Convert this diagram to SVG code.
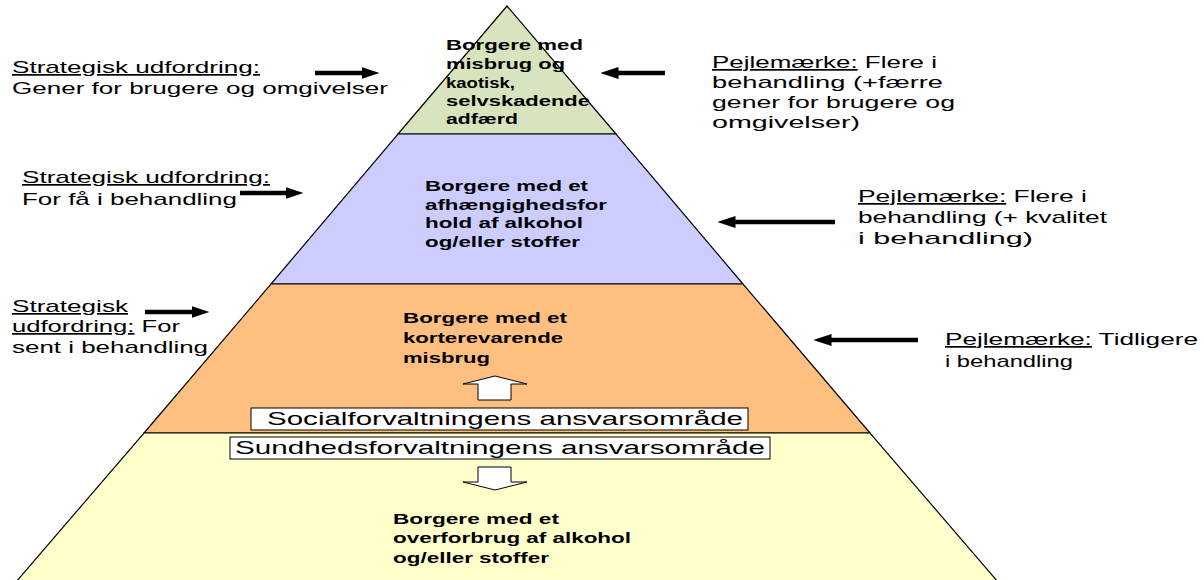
<svg xmlns="http://www.w3.org/2000/svg" width="1204" height="580" viewBox="0 0 1204 580">
<defs>
<style>
.lvl{stroke:#000;stroke-width:1.2}
.pt{font-family:"Liberation Sans",Arial,sans-serif;font-weight:bold;font-size:15px;fill:#000}
.lb{font-family:"Liberation Sans",Arial,sans-serif;font-size:17px;fill:#000}
.bx{font-family:"Liberation Sans",Arial,sans-serif;font-size:19px;fill:#000}
.u{text-decoration:underline}
.arr{stroke:#000;stroke-width:4.5;fill:none;marker-end:url(#ah)}
.blk{fill:#fff;stroke:#000;stroke-width:1}
</style>
<marker id="ah" markerUnits="userSpaceOnUse" viewBox="0 0 18 12" markerWidth="18" markerHeight="12" refX="0.5" refY="6" orient="auto">
<path d="M0,0 L18,6 L0,12 z" fill="#000"/>
</marker>
</defs>
<rect width="1204" height="580" fill="#fff"/>

<g id="level-top">
<polygon class="lvl" fill="#D7E4BD" points="507,6 616,134 398,134"/>
<text class="pt" x="446" y="50" textLength="137" lengthAdjust="spacingAndGlyphs">Borgere med</text>
<text class="pt" x="446" y="69" textLength="119" lengthAdjust="spacingAndGlyphs">misbrug og</text>
<text class="pt" x="446" y="88" textLength="69" lengthAdjust="spacingAndGlyphs">kaotisk,</text>
<text class="pt" x="446" y="106" textLength="144" lengthAdjust="spacingAndGlyphs">selvskadende</text>
<text class="pt" x="446" y="124" textLength="72" lengthAdjust="spacingAndGlyphs">adfærd</text>
</g>

<g id="level-dependency">
<polygon class="lvl" fill="#CCCCFF" points="398,134 616,134 743,284 271,284"/>
<text class="pt" x="425" y="191" textLength="163" lengthAdjust="spacingAndGlyphs">Borgere med et</text>
<text class="pt" x="425" y="210" textLength="182" lengthAdjust="spacingAndGlyphs">afhængighedsfor</text>
<text class="pt" x="425" y="228" textLength="158" lengthAdjust="spacingAndGlyphs">hold af alkohol</text>
<text class="pt" x="425" y="247" textLength="155" lengthAdjust="spacingAndGlyphs">og/eller stoffer</text>
</g>

<g id="level-short">
<polygon class="lvl" fill="#FFBF80" points="271,284 743,284 870,433 144,433"/>
<text class="pt" x="403" y="323" textLength="164" lengthAdjust="spacingAndGlyphs">Borgere med et</text>
<text class="pt" x="403" y="343" textLength="160" lengthAdjust="spacingAndGlyphs">korterevarende</text>
<text class="pt" x="403" y="363" textLength="87" lengthAdjust="spacingAndGlyphs">misbrug</text>
</g>

<g id="level-overuse">
<polygon class="lvl" fill="#FFFFCC" points="144,433 870,433 998,582 16,582"/>
<text class="pt" x="393" y="524" textLength="166" lengthAdjust="spacingAndGlyphs">Borgere med et</text>
<text class="pt" x="393" y="543" textLength="238" lengthAdjust="spacingAndGlyphs">overforbrug af alkohol</text>
<text class="pt" x="393" y="563" textLength="156" lengthAdjust="spacingAndGlyphs">og/eller stoffer</text>
</g>

<g id="box-social">
<rect class="blk" x="251" y="408" width="497" height="22"/>
<text class="bx" x="267" y="425" textLength="476" lengthAdjust="spacingAndGlyphs">Socialforvaltningens ansvarsområde</text>
</g>

<g id="box-sundhed">
<rect class="blk" x="230" y="437" width="540" height="22"/>
<text class="bx" x="235" y="454" textLength="530" lengthAdjust="spacingAndGlyphs">Sundhedsforvaltningens ansvarsområde</text>
</g>

<g id="label-left-1">
<text class="lb" x="12" y="73" textLength="248" lengthAdjust="spacingAndGlyphs"><tspan class="u">Strategisk udfordring:</tspan></text>
<text class="lb" x="12" y="94" textLength="376" lengthAdjust="spacingAndGlyphs">Gener for brugere og omgivelser</text>
</g>
<g id="label-left-2">
<text class="lb" x="22" y="183" textLength="248" lengthAdjust="spacingAndGlyphs"><tspan class="u">Strategisk udfordring:</tspan></text>
<text class="lb" x="22" y="205" textLength="215" lengthAdjust="spacingAndGlyphs">For få i behandling</text>
</g>
<g id="label-left-3">
<text class="lb" x="12" y="312" textLength="116" lengthAdjust="spacingAndGlyphs"><tspan class="u">Strategisk</tspan></text>
<text class="lb" x="12" y="332" textLength="168" lengthAdjust="spacingAndGlyphs"><tspan class="u">udfordring:</tspan> For</text>
<text class="lb" x="12" y="353" textLength="196" lengthAdjust="spacingAndGlyphs">sent i behandling</text>
</g>

<g id="label-right-1">
<text class="lb" x="712" y="68" textLength="225" lengthAdjust="spacingAndGlyphs"><tspan class="u">Pejlemærke:</tspan> Flere i</text>
<text class="lb" x="712" y="88" textLength="231" lengthAdjust="spacingAndGlyphs">behandling (+færre</text>
<text class="lb" x="712" y="108" textLength="243" lengthAdjust="spacingAndGlyphs">gener for brugere og</text>
<text class="lb" x="712" y="128" textLength="148" lengthAdjust="spacingAndGlyphs">omgivelser)</text>
</g>
<g id="label-right-2">
<text class="lb" x="858" y="202" textLength="229" lengthAdjust="spacingAndGlyphs"><tspan class="u">Pejlemærke:</tspan> Flere i</text>
<text class="lb" x="858" y="223" textLength="249" lengthAdjust="spacingAndGlyphs">behandling (+ kvalitet</text>
<text class="lb" x="858" y="244" textLength="175" lengthAdjust="spacingAndGlyphs">i behandling)</text>
</g>
<g id="label-right-3">
<text class="lb" x="945" y="345" textLength="253" lengthAdjust="spacingAndGlyphs"><tspan class="u">Pejlemærke:</tspan> Tidligere</text>
<text class="lb" x="945" y="367" textLength="128" lengthAdjust="spacingAndGlyphs">i behandling</text>
</g>

<g id="connectors">
<line class="arr" x1="315" y1="73" x2="362" y2="73"/>
<line class="arr" x1="240" y1="193" x2="286" y2="193"/>
<line class="arr" x1="145" y1="312" x2="192" y2="312"/>
<line class="arr" x1="665" y1="73" x2="618" y2="73"/>
<line class="arr" x1="835" y1="222" x2="735" y2="222"/>
<line class="arr" x1="918" y1="340" x2="831" y2="340"/>
<path class="blk" d="M478,400 L478,384 L463,384 L495,376 L527,384 L511,384 L511,400 Z"/>
<path class="blk" d="M478,467 L511,467 L511,482 L527,482 L495,490 L463,482 L478,482 Z"/>
</g>
</svg>
